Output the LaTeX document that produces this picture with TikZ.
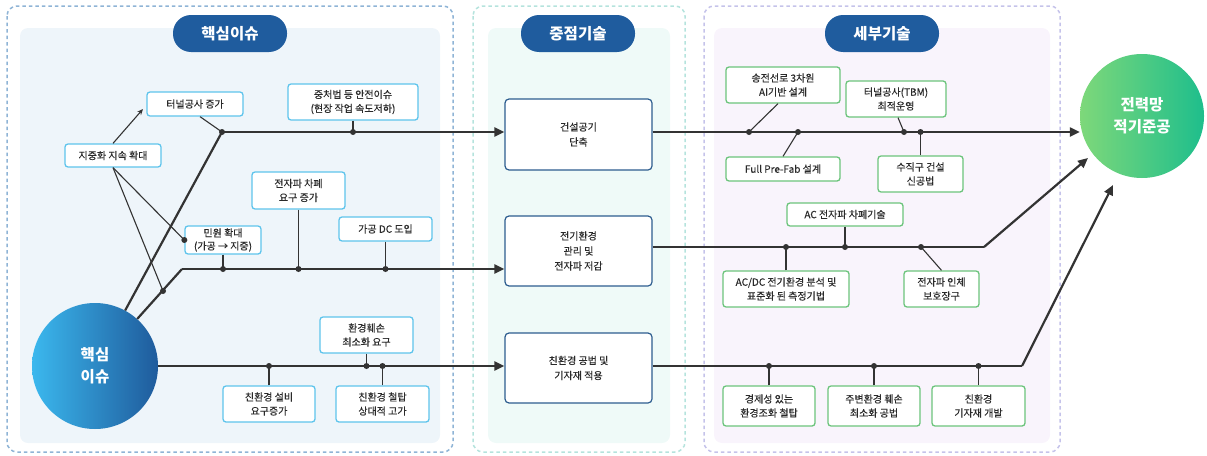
\documentclass[tikz,border=0pt]{standalone}
\usepackage{fontspec}
\setmainfont{Noto Sans CJK KR}
\newfontfamily\krmed{Noto Sans CJK KR}[FakeBold=0.35]
\usetikzlibrary{arrows.meta}
\definecolor{lbord}{HTML}{8FB4D6}
\definecolor{mbord}{HTML}{B5E3DD}
\definecolor{rbord}{HTML}{C5C3EA}
\definecolor{lbg}{HTML}{EEF5FA}
\definecolor{mbg}{HTML}{EFFAF8}
\definecolor{rbg}{HTML}{F9F4FC}
\definecolor{pillc}{HTML}{1F5C9E}
\definecolor{skyb}{HTML}{5EC4EC}
\definecolor{grn}{HTML}{6CC47C}
\definecolor{navyb}{HTML}{2D5D8F}
\definecolor{ink}{HTML}{333333}
\definecolor{txt}{HTML}{2A2A2A}
\definecolor{coreL}{HTML}{3BB8EE}
\definecolor{coreR}{HTML}{1F5B9C}
\definecolor{goalL}{HTML}{7ED87A}
\definecolor{goalR}{HTML}{1EBE8C}
\begin{document}
\begin{tikzpicture}[x=1pt,y=-1pt,
  panel/.style={line width=1.5pt, dash pattern=on 3.5pt off 3pt, rounded corners=10pt},
  pill/.style={fill=pillc, text=white, rounded corners=18pt, minimum width=114pt, minimum height=37pt, inner sep=0pt, font=\fontsize{15.5}{18}\selectfont\bfseries},
  boxbase/.style={line width=1.3pt, fill=white, rounded corners=3pt, align=center, inner sep=0pt, text=txt, font=\krmed\fontsize{10}{14}\selectfont},
  bbox/.style={boxbase, draw=skyb},
  gbox/.style={boxbase, draw=grn},
  mbox/.style={boxbase, draw=navyb, line width=1.2pt, rounded corners=4pt, minimum width=147pt, font=\krmed\fontsize{10}{15}\selectfont},
  thickln/.style={draw=ink, line width=2.2pt},
  thickarr/.style={thickln, -{Triangle[length=10pt,width=9pt]}},
  thinln/.style={draw=ink, line width=1.1pt},
  dot/.style={fill=ink}
]
\useasboundingbox (0,0) rectangle (1207,455);
% panels
\fill[lbg, rounded corners=8pt] (20,28) rectangle (440,443);
\draw[panel, lbord] (7,6) rectangle (453,452);
\fill[mbg, rounded corners=8pt] (488,28) rectangle (670,443);
\draw[panel, mbord] (473,6) rectangle (685,452);
\fill[rbg, rounded corners=8pt] (714,28) rectangle (1050,443);
\draw[panel, rbord] (704,6) rectangle (1060,452);
\node[pill] (t1) at (230,33.5) {핵심이슈};
\node[pill] (t2) at (578,33.5) {중점기술};
\node[pill] (t3) at (882,33.5) {세부기술};

% circles
\node[circle, minimum size=126pt, inner sep=0pt, left color=coreL, right color=coreR, text=white, align=center, font=\fontsize{15.5}{22}\selectfont\bfseries] (core) at (95,366) {핵심\\이슈};
\node[circle, minimum size=124pt, inner sep=0pt, left color=goalL, right color=goalR, text=white, align=center, font=\fontsize{15.5}{22}\selectfont\bfseries] (goal) at (1142,116) {전력망\\적기준공};

% middle boxes
\node[mbox, minimum height=71pt] (box1) at (578.5,134.5) {건설공기\\단축};
\node[mbox, minimum height=70pt] (box2) at (578.5,251) {전기환경\\관리 및\\전자파 저감};
\node[mbox, minimum height=70pt] (box3) at (578.5,368) {친환경 공법 및\\기자재 적용};

% left boxes
\node[bbox, minimum width=96pt, minimum height=24pt] (tunnel) at (195,104) {터널공사 증가};
\node[bbox, minimum width=130pt, minimum height=36pt] (jcb) at (353,102) {중처법 등 안전이슈\\(현장 작업 속도저하)};
\node[bbox, minimum width=96pt, minimum height=23pt] (jihwa) at (113,155.5) {지중화 지속 확대};
\node[bbox, minimum width=93pt, minimum height=37pt] (emw) at (298.5,190.5) {전자파 차폐\\요구 증가};
\node[bbox, minimum width=93pt, minimum height=24pt] (dc) at (385.5,229) {가공 DC 도입};
\node[bbox, minimum width=76pt, minimum height=28pt, font=\krmed\fontsize{10}{13}\selectfont] (minwon) at (223,240) {민원 확대\\(가공 → 지중)};
\node[bbox, minimum width=92pt, minimum height=36pt] (eco1) at (269,404) {친환경 설비\\요구증가};
\node[bbox, minimum width=93pt, minimum height=36pt] (env) at (366.5,335) {환경훼손\\최소화 요구};
\node[bbox, minimum width=93pt, minimum height=36pt] (eco2) at (382.5,404) {친환경 철탑\\상대적 고가};

% right boxes
\node[gbox, minimum width=114pt, minimum height=36pt] (ai) at (783,85) {송전선로 3차원\\AI기반 설계};
\node[gbox, minimum width=114pt, minimum height=24pt] (prefab) at (783,169) {Full Pre-Fab 설계};
\node[gbox, minimum width=100pt, minimum height=36pt] (tbm) at (896,99) {터널공사(TBM)\\최적운영};
\node[gbox, minimum width=85pt, minimum height=36pt] (vert) at (920.5,174) {수직구 건설\\신공법};
\node[gbox, minimum width=116pt, minimum height=23pt] (acs) at (845,214.5) {AC 전자파 차폐기술};
\node[gbox, minimum width=126pt, minimum height=36pt] (acdc) at (786,289) {AC/DC 전기환경 분석 및\\표준화 된 측정기법};
\node[gbox, minimum width=75pt, minimum height=36pt] (body) at (941.5,289) {전자파 인체\\보호장구};
\node[gbox, minimum width=92pt, minimum height=40pt] (econ) at (769,406) {경제성 있는\\환경조화 철탑};
\node[gbox, minimum width=92pt, minimum height=40pt] (surr) at (874,406) {주변환경 훼손\\최소화 공법};
\node[gbox, minimum width=93pt, minimum height=40pt] (ecomat) at (978.5,406) {친환경\\기자재 개발};

% coordinates
\coordinate (j1) at (222,132);
\coordinate (b2) at (182,269);
\coordinate (d2a) at (163,291);
\coordinate (y247) at (0,247);
\coordinate (ta) at (143,109);
\coordinate (r2b) at (984,247);
\coordinate (e2) at (1088,158);
\coordinate (r3b) at (1022,366);
\coordinate (e3) at (1113,185);
\coordinate (r1a) at (749,132);
\coordinate (r1b) at (798,132);
\coordinate (r1c) at (904,132);
\coordinate (r1d) at (920.5,132);
\coordinate (r2c) at (921,247);

% left main lines
\draw[thickln] (core) -- (j1);
\draw[thickarr] (j1) -- (j1 -| box1.west);
\draw[thickln] (core) -- (b2);
\draw[thickarr] (b2) -- (b2 -| box2.west);
\draw[thickarr] (core.east) -- (core.east -| box3.west);

% left thin connectors
\draw[thinln, -{Stealth[length=6pt,width=5pt]}] (jihwa.north) -- (ta);
\draw[thinln] ([xshift=5pt]tunnel.south) -- (j1);
\draw[thinln] (jihwa.south) -- (d2a);
\draw[thinln] (jihwa.south) -- (minwon.west);
\draw[thinln] (jcb.south) -- (jcb.south |- j1);
\draw[thinln] (minwon.south) -- (minwon.south |- b2);
\draw[thinln] (emw.south) -- (emw.south |- b2);
\draw[thinln] (dc.south) -- (dc.south |- b2);
\draw[thinln] (env.south) -- (env.south |- core.east);
\draw[thinln] (eco1.north) -- (eco1.north |- core.east);
\draw[thinln] (eco2.north) -- (eco2.north |- core.east);
\foreach \p in {j1, d2a, minwon.west} \fill[dot] (\p) circle (3pt);
\fill[dot] (jcb.south |- j1) circle (3pt);
\fill[dot] (minwon.south |- b2) circle (3pt);
\fill[dot] (emw.south |- b2) circle (3pt);
\fill[dot] (dc.south |- b2) circle (3pt);
\fill[dot] (env.south |- core.east) circle (3pt);
\fill[dot] (eco1.north |- core.east) circle (3pt);
\fill[dot] (eco2.north |- core.east) circle (3pt);

% right main lines
\draw[thickarr] (box1.east |- j1) -- (j1 -| goal.west);
\draw[thickln] (box2.east |- y247) -- (r2b);
\draw[thickarr] (r2b) -- (e2);
\draw[thickln] (box3.east |- r3b) -- (r3b);
\draw[thickarr] (r3b) -- (e3);

% right thin connectors
\draw[thinln] ([xshift=-5pt]ai.south) -- (r1a);
\draw[thinln] (prefab.north) -- (r1b);
\draw[thinln] ([xshift=2pt]tbm.south) -- (r1c);
\draw[thinln] (vert.north) -- (r1d);
\draw[thinln] (acs.south) -- (acs.south |- y247);
\draw[thinln] (acdc.north) -- (acdc.north |- y247);
\draw[thinln] (body.north) -- (r2c);
\draw[thinln] (econ.north) -- (econ.north |- r3b);
\draw[thinln] (surr.north) -- (surr.north |- r3b);
\draw[thinln] (ecomat.north) -- (ecomat.north |- r3b);
\foreach \p in {r1a, r1b, r1c, r1d, r2c} \fill[dot] (\p) circle (3pt);
\fill[dot] (acs.south |- y247) circle (3pt);
\fill[dot] (acdc.north |- y247) circle (3pt);
\fill[dot] (econ.north |- r3b) circle (3pt);
\fill[dot] (surr.north |- r3b) circle (3pt);
\fill[dot] (ecomat.north |- r3b) circle (3pt);
\end{tikzpicture}
\end{document}
